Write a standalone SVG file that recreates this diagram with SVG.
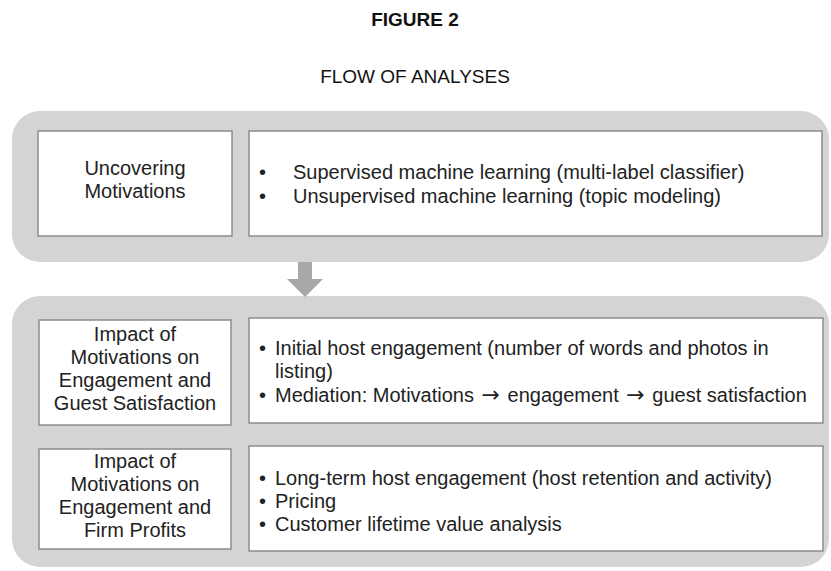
<svg xmlns="http://www.w3.org/2000/svg" width="831" height="571" viewBox="0 0 831 571">
<style>
.panel{fill:#d4d4d6}
.box{fill:#ffffff;stroke:#8c8c8c;stroke-width:1.5}
text{font-family:"Liberation Sans",Arial,sans-serif;font-size:20px;fill:#222222}
.title{font-size:19px;text-anchor:middle;fill:#111111}
.bold{font-weight:bold}
.c{text-anchor:middle}
.arr{font-family:"DejaVu Sans",sans-serif;font-size:22px}
</style>
<rect width="831" height="571" fill="#ffffff"/>
<text class="title bold" x="415" y="26">FIGURE 2</text>
<text class="title" x="415" y="83">FLOW OF ANALYSES</text>
<g id="panel1">
<rect class="panel" x="12" y="111" width="817" height="151" rx="28"/>
</g>
<g id="panel2">
<rect class="panel" x="12" y="296" width="817" height="271" rx="28"/>
</g>
<g id="connectors">
<polygon fill="#a8a8aa" points="298,262 312,262 312,279 323,279 305,297 287,279 298,279"/>
</g>
<g id="uncovering">
<rect class="box" x="38" y="131" width="194" height="105"/>
<text class="c" x="135" y="175">Uncovering</text>
<text class="c" x="135" y="198">Motivations</text>
</g>
<g id="ml">
<rect class="box" x="249" y="131" width="573" height="105"/>
<text x="259" y="179">•</text><text x="293" y="179">Supervised machine learning (multi-label classifier)</text>
<text x="259" y="203">•</text><text x="293" y="203">Unsupervised machine learning (topic modeling)</text>
</g>
<g id="impact-satisfaction">
<rect class="box" x="39" y="320" width="192" height="105"/>
<text class="c" x="135" y="341">Impact of</text>
<text class="c" x="135" y="364">Motivations on</text>
<text class="c" x="135" y="387">Engagement and</text>
<text class="c" x="135" y="410">Guest Satisfaction</text>
</g>
<g id="engagement">
<rect class="box" x="249" y="318" width="574" height="105"/>
<text x="259" y="355">•</text><text x="275" y="355">Initial host engagement (number of words and photos in</text>
<text x="275" y="378">listing)</text>
<text x="259" y="402">•</text><text x="275" y="402">Mediation: Motivations <tspan class="arr" dx="2">→</tspan><tspan dx="2"> engagement </tspan><tspan class="arr" dx="2">→</tspan><tspan dx="2"> guest satisfaction</tspan></text>
</g>
<g id="impact-profits">
<rect class="box" x="39" y="449" width="192" height="100"/>
<text class="c" x="135" y="468">Impact of</text>
<text class="c" x="135" y="491">Motivations on</text>
<text class="c" x="135" y="514">Engagement and</text>
<text class="c" x="135" y="537">Firm Profits</text>
</g>
<g id="profits">
<rect class="box" x="249" y="446" width="574" height="105"/>
<text x="259" y="485">•</text><text x="275" y="485">Long-term host engagement (host retention and activity)</text>
<text x="259" y="508">•</text><text x="275" y="508">Pricing</text>
<text x="259" y="531">•</text><text x="275" y="531">Customer lifetime value analysis</text>
</g>
</svg>
